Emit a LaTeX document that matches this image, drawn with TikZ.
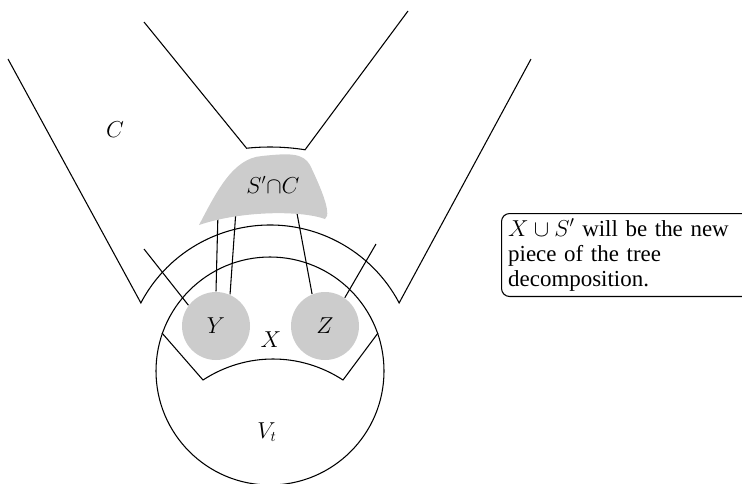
\documentclass[tikz,border=0pt]{standalone}
\usepackage{fontspec}
\setmainfont{Liberation Serif}
\usetikzlibrary{calc, positioning}

\begin{document}
\begin{tikzpicture}[x=0.75pt, y=-0.75pt, line width=0.8pt,
    font=\fontsize{16}{19}\selectfont,
    part/.style={fill=black!20, draw=none},
    disk/.style={part, circle, minimum size=51pt, inner sep=0pt},
    note/.style={draw, rounded corners=6pt, text width=190pt, align=left, inner xsep=5pt, inner ysep=4pt, minimum height=62pt, anchor=north west, font=\fontsize{17.2}{18.8}\selectfont}
]
    \useasboundingbox (0,0) rectangle (742,483);
    \coordinate (ctr) at (270,371);
    \draw (8,59) -- ($(ctr)+(-152.2:146)$) arc[start angle=-152.2, end angle=-27.8, radius=146] -- (531,59);
    \draw (144,22) -- ($(ctr)+(-96:224)$) arc[start angle=-96, end angle=-81, radius=224] -- (408,11);
    \draw (ctr) circle[radius=114];
    \draw (162,333) -- (203,380) .. controls (246,352) and (300,352) .. (343,380) -- (378,333);
    \node[disk] (Y) at (216,326) {$Y$};
    \node[disk] (Z) at (325,326) {$Z$};
    \coordinate (s1) at (218,212);
    \coordinate (s2) at (236,210);
    \coordinate (s3) at (296,208);
    \coordinate (c1) at (144,249);
    \coordinate (c2) at (376,244);
    \draw (s1) -- (Y.north);
    \draw (s2) -- (Y.66);
    \draw (s3) -- (Z.112);
    \draw (c1) -- (Y.143);
    \draw (c2) -- (Z.55);
    \fill[part] (199,225) .. controls (215,195) and (232,158) .. (262,156) .. controls (290,153) and (303,153) .. (310,165) .. controls (318,182) and (333,214) .. (325,219) .. controls (300,210) and (240,211) .. (199,225) -- cycle;
    \node (SC) at (273,185) {$S'{\cap}C$};
    \node (C) at (115,130) {$C$};
    \node (X) at (271,340) {$X$};
    \node (Vt) at (267,432) {$V_t$};
    \node[note] (msg) at (501,213) {$X\cup S'$ will be the new\\ piece of the tree\\ decomposition.};
\end{tikzpicture}
\end{document}
